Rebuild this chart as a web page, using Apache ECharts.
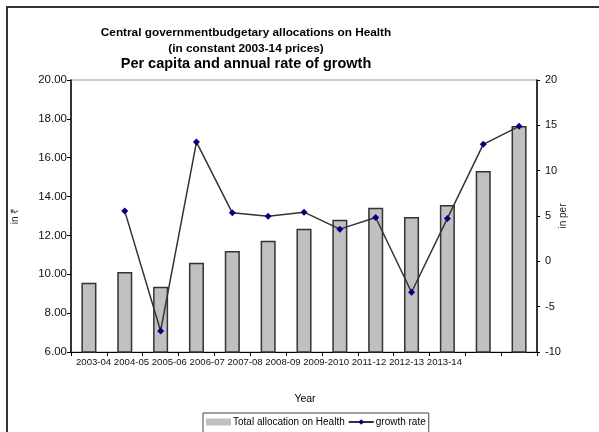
<!DOCTYPE html>
<html>
<head>
<meta charset="utf-8">
<script src="https://cdn.jsdelivr.net/npm/echarts@6/dist/echarts.min.js"></script>
<style>html,body{margin:0;padding:0;background:#fff}#c{width:599px;height:432px}</style>
</head>
<body>
<div id="c"></div>
<script>
var categories = ['c1','c2','c3','c4','c5','c6','c7','c8','c9','c10','c11','c12','c13'];
var xTickLabels = ['2003-04','2004-05','2005-06','2006-07','2007-08','2008-09','2009-2010','2011-12','2012-13','2013-14'];
var totalAllocation = [9.56, 10.12, 9.36, 10.6, 11.2, 11.73, 12.35, 12.81, 13.43, 12.95, 13.57, 15.32, 17.63];
var growthRate = [null, 5.54, -7.68, 13.15, 5.35, 4.98, 5.42, 3.55, 4.84, -3.41, 4.73, 12.9, 14.89];
var titleLines = ['Central governmentbudgetary allocations on Health', '(in constant 2003-14 prices)', 'Per capita and annual rate of growth'];

var chart = echarts.init(document.getElementById('c'), null, {renderer: 'canvas'});
var font = 'Liberation Sans, Arial, sans-serif';
chart.setOption({
  backgroundColor: '#fff',
  animation: false,
  textStyle: {fontFamily: font},
  title: {
    left: 241, top: 20, textAlign: 'center',
    text: '{a|' + titleLines[0] + '}\n{a|' + titleLines[1] + '}\n{b|' + titleLines[2] + '}',
    textStyle: {
      rich: {
        a: {fontFamily: font, fontSize: 11.8, fontWeight: 'bold', color: '#000', lineHeight: 15.5, align: 'center'},
        b: {fontFamily: font, fontSize: 14.5, fontWeight: 'bold', color: '#000', lineHeight: 16, align: 'center'}
      }
    }
  },
  grid: {left: 71, right: 62, top: 80, bottom: 80, show: true, borderColor: '#999', borderWidth: 1, backgroundColor: 'transparent'},
  legend: {
    left: 203, top: 413,
    itemWidth: 25, itemHeight: 7, itemGap: 3,
    padding: [4, 3, 12, 3],
    borderColor: '#444', borderWidth: 1,
    textStyle: {fontFamily: font, fontSize: 10, color: '#000', padding: [0, 0, 0, -3]},
    data: [
      {name: 'Total allocation on Health', icon: 'rect', itemStyle: {borderWidth: 0, color: '#c0c0c0'}},
      {name: 'growth rate'}
    ]
  },
  xAxis: {
    type: 'category', data: categories,
    name: 'Year', nameLocation: 'middle', nameGap: 42, nameMoveOverlap: false,
    nameTextStyle: {fontFamily: font, fontSize: 10.5, color: '#000', padding: [0, 0, 0, 2]},
    axisLine: {onZero: false, lineStyle: {color: '#000', width: 1}},
    axisTick: {show: true, length: 4, lineStyle: {color: '#000'}},
    axisLabel: {show: false}
  },
  yAxis: [
    {
      type: 'value', min: 6, max: 20, interval: 2,
      name: 'in \u20b9', nameLocation: 'middle', nameGap: 51, nameRotate: 90, nameMoveOverlap: false,
      nameTextStyle: {fontFamily: font, fontSize: 10, color: '#222'},
      axisLine: {show: true, lineStyle: {color: '#000', width: 1.5}},
      axisTick: {show: true, length: 4, lineStyle: {color: '#000'}},
      axisLabel: {margin: 4, fontSize: 11.5, color: '#111', formatter: function (v) { return v.toFixed(2); }},
      splitLine: {show: false}
    },
    {
      type: 'value', min: -10, max: 20, interval: 5,
      name: 'in per', nameLocation: 'middle', nameGap: 21, nameRotate: 90, nameMoveOverlap: false,
      nameTextStyle: {fontFamily: font, fontSize: 10, color: '#222'},
      axisLine: {show: true, lineStyle: {color: '#000', width: 1.5}},
      axisTick: {show: true, length: 3, lineStyle: {color: '#000'}},
      axisLabel: {margin: 8, fontSize: 11, color: '#111'},
      splitLine: {show: false}
    }
  ],
  series: [
    {
      name: 'Total allocation on Health', type: 'bar', data: totalAllocation, yAxisIndex: 0,
      barWidth: '42%',
      itemStyle: {color: '#c0c0c0', borderColor: '#333', borderWidth: 1.5}
    },
    {
      name: 'growth rate', type: 'line', data: growthRate, yAxisIndex: 1,
      symbol: 'diamond', symbolSize: 7, showAllSymbol: true,
      lineStyle: {color: '#333', width: 1.5},
      itemStyle: {color: '#000080'}
    }
  ],
  graphic: [
    {type: 'rect', shape: {x: 7, y: 7, width: 620, height: 460}, style: {fill: null, stroke: '#333', lineWidth: 2}, silent: true, z: 100},
    {type: 'text', left: 76, top: 357, style: {text: xTickLabels.join(' '), fontFamily: font, fontSize: 9.6, fill: '#111'}}
  ]
});
</script>
</body>
</html>
